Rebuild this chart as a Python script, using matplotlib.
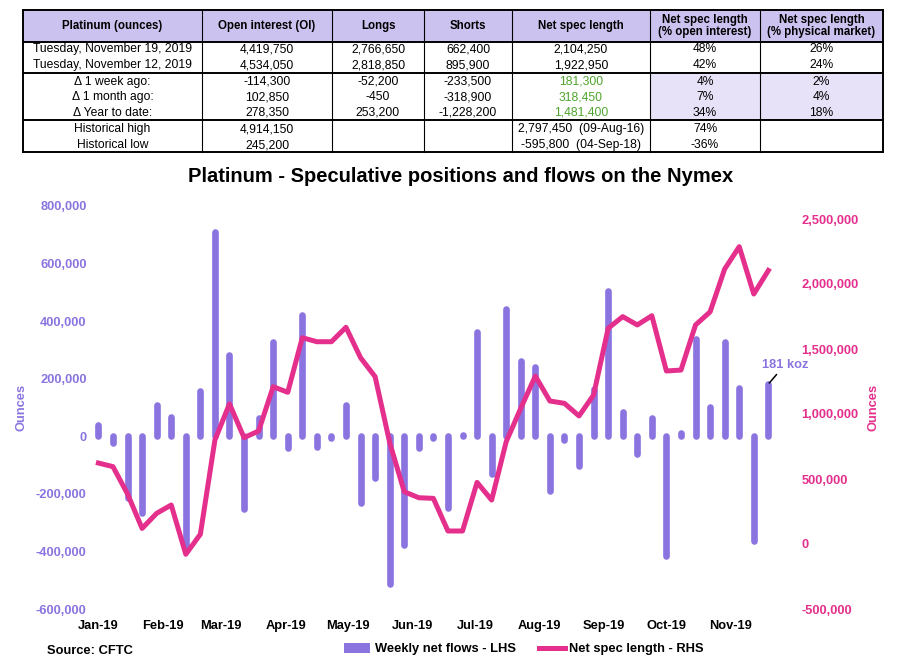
import matplotlib
matplotlib.use("Agg")
import matplotlib.pyplot as plt
import matplotlib.dates as mdates
from matplotlib.patches import Patch, Rectangle
from matplotlib.lines import Line2D
from matplotlib.ticker import FuncFormatter, MultipleLocator
import pandas as pd

plt.rcParams["font.family"] = ["Liberation Sans", "DejaVu Sans"]

# weekly net flows (LHS) and net spec length (RHS), Tuesdays from 1 Jan 2019
flows = [38000, -25000, -215000, -265000, 107000, 68000, -400000, 156000, 709000, 284000,
         -254000, 63000, 327000, -42000, 423000, -38000, -5000, 110000, -233000, -146000,
         -514000, -378000, -42000, -5000, -250000, 5000, 362000, -132000, 443000, 261000,
         240000, -190000, -12000, -103000, 164000, 504000, 83000, -61000, 63000, -417000,
         12000, 338000, 103000, 329000, 168000, -363000, 181300]
net_length = [622850, 595000, 385000, 120000, 236000, 300000, -79000, 75000, 800000, 1078000,
              818000, 869000, 1210000, 1167000, 1587000, 1556000, 1556000, 1667000, 1433000, 1287000,
              780000, 402000, 356000, 351000, 100000, 100000, 474000, 338000, 787000, 1044000,
              1292000, 1100000, 1082000, 985000, 1146000, 1659000, 1749000, 1685000, 1756000, 1331000,
              1338000, 1685000, 1785800, 2115000, 2287000, 1922950, 2104250]
dates = pd.date_range("2019-01-01", periods=len(flows), freq="7D")

table_header = ["Platinum (ounces)", "Open interest (OI)", "Longs", "Shorts", "Net spec length",
                "Net spec length\n(% open interest)", "Net spec length\n(% physical market)"]
table_rows = [
    ["Tuesday, November 19, 2019", "4,419,750", "2,766,650", "662,400", "2,104,250", "48%", "26%"],
    ["Tuesday, November 12, 2019", "4,534,050", "2,818,850", "895,900", "1,922,950", "42%", "24%"],
    ["\u0394 1 week ago:", "-114,300", "-52,200", "-233,500", "181,300", "4%", "2%"],
    ["\u0394 1 month ago:", "102,850", "-450", "-318,900", "318,450", "7%", "4%"],
    ["\u0394 Year to date:", "278,350", "253,200", "-1,228,200", "1,481,400", "34%", "18%"],
    ["Historical high", "4,914,150", "", "", "2,797,450  (09-Aug-16)", "74%", ""],
    ["Historical low", "245,200", "", "", "-595,800  (04-Sep-18)", "-36%", ""],
]

PURPLE = "#8B74E0"
PINK = "#E42F8C"
GREEN = "#4FA52E"

W, H = 901, 664
fig = plt.figure(figsize=(W / 100, H / 100), dpi=100)

# ---- table (pixel coordinates) ----
tb = fig.add_axes([0, 0, 1, 1])
tb.set_xlim(0, W)
tb.set_ylim(H, 0)
tb.axis("off")

col_edges = [23, 202, 332, 424, 512, 650, 760, 883]
row_y = [49.3, 65, 81.7, 97.3, 112.7, 129.3, 145]
hlines = [10, 41.5, 73.3, 120, 151.7]

tb.add_patch(Rectangle((col_edges[0], 10), col_edges[-1] - col_edges[0], 31.5,
                       facecolor="#CCC2EF", edgecolor="none"))
tb.add_patch(Rectangle((col_edges[5], 73.3), col_edges[-1] - col_edges[5], 46.7,
                       facecolor="#E7E2F8", edgecolor="none"))
for y in hlines:
    tb.plot([col_edges[0], col_edges[-1]], [y, y], color="black", lw=1.4)
for i, x in enumerate(col_edges):
    lw = 1.4 if i in (0, len(col_edges) - 1) else 0.8
    tb.plot([x, x], [10, 151.7], color="black", lw=lw)

for j, txt in enumerate(table_header):
    cx = (col_edges[j] + col_edges[j + 1]) / 2
    tb.text(cx, 25.8, txt, ha="center", va="center", fontsize=8.3, fontweight="bold",
            linespacing=1.05)
for i, row in enumerate(table_rows):
    for j, txt in enumerate(row):
        cx = (col_edges[j] + col_edges[j + 1]) / 2
        color = GREEN if (j == 4 and 2 <= i <= 4) else "black"
        tb.text(cx, row_y[i], txt, ha="center", va="center", fontsize=8.7, color=color)

# ---- chart ----
fig.text(461 / W, 1 - 177 / H, "Platinum - Speculative positions and flows on the Nymex",
         ha="center", va="center", fontsize=14.5, fontweight="bold")

ax = fig.add_axes([88 / W, 1 - 609 / H, (785 - 88) / W, (609 - 206) / H])
ax2 = ax.twinx()

ax.vlines(dates, 0, flows, color=PURPLE, lw=4.8, capstyle="round")
ax2.plot(dates, net_length, color=PINK, lw=3.6, solid_joinstyle="round")

ax.set_xlim(pd.Timestamp("2018-12-27"), pd.Timestamp("2019-11-27"))
ax.set_ylim(-600000, 800000)
ax2.set_ylim(-500000, 2600000)
ax.yaxis.set_major_locator(MultipleLocator(200000))
ax2.yaxis.set_major_locator(MultipleLocator(500000))
fmt = FuncFormatter(lambda v, p: f"{v:,.0f}")
ax.yaxis.set_major_formatter(fmt)
ax2.yaxis.set_major_formatter(fmt)
ax.xaxis.set_major_locator(mdates.MonthLocator())
ax.xaxis.set_major_formatter(mdates.DateFormatter("%b-%y"))

for a in (ax, ax2):
    for s in a.spines.values():
        s.set_visible(False)
    a.tick_params(length=0)
ax.tick_params(axis="y", labelsize=9.3, labelcolor=PURPLE, pad=1)
ax.tick_params(axis="x", labelsize=9.3, pad=8)
ax2.tick_params(axis="y", labelsize=9.3, labelcolor=PINK, pad=12)
for lab in ax.get_yticklabels() + ax.get_xticklabels() + ax2.get_yticklabels():
    lab.set_fontweight("bold")

ax.set_ylabel("Ounces", color=PURPLE, fontsize=9.3, fontweight="bold")
ax.yaxis.set_label_coords(-0.0875, 0.5)
ax2.set_ylabel("Ounces", color=PINK, fontsize=9.3, fontweight="bold", rotation=90)
ax2.yaxis.set_label_coords(1.118, 0.5)

ax.annotate("181 koz", xy=(dates[-1], flows[-1]), xytext=(12, 14), textcoords="offset points",
            ha="center", va="center", fontsize=9.3, fontweight="bold", color=PURPLE,
            arrowprops=dict(arrowstyle="-", color="black", lw=1.1, shrinkA=1, shrinkB=1))

handles = [Patch(facecolor=PURPLE, edgecolor="none"),
           Line2D([], [], color=PINK, lw=3.6)]
fig.legend(handles, ["Weekly net flows - LHS", "Net spec length - RHS"], loc="center",
           bbox_to_anchor=(524 / W, 1 - 649 / H), ncol=2, frameon=False,
           prop=dict(size=9.3, weight="bold"), handlelength=2.0, handleheight=0.9,
           handletextpad=0.35, columnspacing=1.8)

fig.text(47 / W, 1 - 651 / H, "Source: CFTC", ha="left", va="center",
         fontsize=9.3, fontweight="bold")

fig.savefig("out.png", dpi=100)
